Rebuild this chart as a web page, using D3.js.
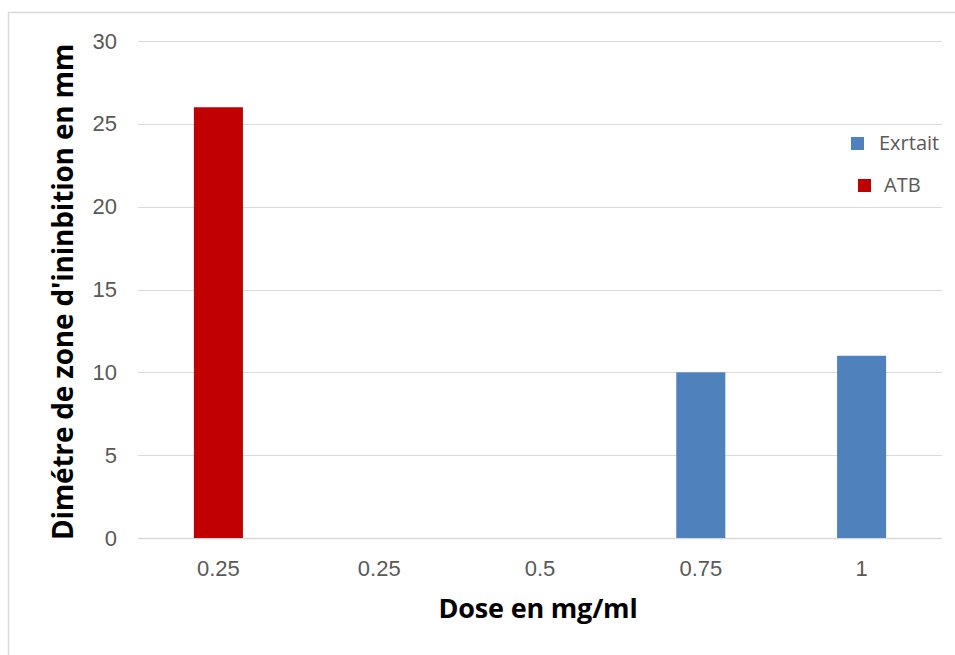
<!DOCTYPE html>
<html>
<head>
<meta charset="utf-8">
<script src="https://cdn.jsdelivr.net/npm/d3@7"></script>
<style>
  html, body { margin: 0; padding: 0; background: #fff; }
  svg { display: block; }
</style>
</head>
<body>
<svg id="chart" width="955" height="655"></svg>
<script>
// Inhibition zone diameters per dose
const categories = ["0.25", "0.25 ", "0.5", "0.75", "1"];
const extrait = [0, 0, 0, 10, 11];
const atb = [26, 0, 0, 0, 0];
const yTicks = [0, 5, 10, 15, 20, 25, 30];
const seriesNames = ["Exrtait", "ATB"];
const seriesColors = ["#4F81BD", "#C00000"];

const svg = d3.select("#chart");
const W = 955, H = 655;
const plot = { left: 138, right: 942, top: 41, bottom: 538 };

// Outer chart frame
svg.append("rect")
  .attr("x", 8.5).attr("y", 12.5)
  .attr("width", W + 10).attr("height", H + 10)
  .attr("fill", "#fff").attr("stroke", "#d9d9d9").attr("stroke-width", 1.5);

const x = d3.scaleBand().domain(categories)
  .range([plot.left, plot.right]).paddingInner(0).paddingOuter(0);
const y = d3.scaleLinear().domain([0, 30]).range([plot.bottom, plot.top]);

// Horizontal gridlines
svg.append("g")
  .selectAll("line").data(yTicks).join("line")
  .attr("x1", plot.left).attr("x2", plot.right)
  .attr("y1", d => Math.round(y(d)) + 0.5).attr("y2", d => Math.round(y(d)) + 0.5)
  .attr("stroke", "#d9d9d9").attr("stroke-width", d => d === 0 ? 1.5 : 1);

// Y axis tick labels
const yAxis = d3.axisLeft(y).tickValues(yTicks).tickSize(0).tickPadding(0);
svg.append("g")
  .attr("transform", `translate(${plot.left - 21},0)`)
  .call(yAxis)
  .call(g => g.select(".domain").remove())
  .selectAll("text")
  .attr("font-family", "'Liberation Sans', Arial, sans-serif")
  .attr("font-size", 22).attr("fill", "#595959");

// X axis tick labels
const xAxis = d3.axisBottom(x).tickSize(0).tickPadding(0);
svg.append("g")
  .attr("transform", `translate(0,${plot.bottom + 22})`)
  .call(xAxis)
  .call(g => g.select(".domain").remove())
  .selectAll("text")
  .attr("font-family", "'Liberation Sans', Arial, sans-serif")
  .attr("font-size", 22).attr("fill", "#595959")
  .attr("dy", "0.71em");

// Bars: series share the category slot (only one series per dose is non-zero)
const barW = x.bandwidth() * 0.305;
const rows = categories.map((c, i) => ({ c, vals: [extrait[i], atb[i]] }));
seriesNames.forEach((name, s) => {
  svg.append("g")
    .selectAll("rect")
    .data(rows.filter(r => r.vals[s] > 0))
    .join("rect")
    .attr("x", r => x(r.c) + (x.bandwidth() - barW) / 2)
    .attr("width", barW)
    .attr("y", r => y(r.vals[s]))
    .attr("height", r => y(0) - y(r.vals[s]))
    .attr("fill", seriesColors[s]);
});

// Axis titles
svg.append("text")
  .attr("x", 538).attr("y", 618)
  .attr("text-anchor", "middle")
  .attr("font-family", "'Open Sans', sans-serif")
  .attr("font-weight", "bold").attr("font-size", 27).attr("fill", "#000")
  .attr("letter-spacing", "-0.2px")
  .text("Dose en mg/ml");

svg.append("text")
  .attr("transform", "translate(73,292) rotate(-90)")
  .attr("text-anchor", "middle")
  .attr("font-family", "'Open Sans', sans-serif")
  .attr("font-weight", "bold").attr("font-size", 28).attr("fill", "#000")
  .attr("letter-spacing", "-0.2px")
  .text("Dimétre de zone d'ininbition  en mm");

// Legend
const legend = [
  { name: seriesNames[0], color: seriesColors[0], sx: 851, sy: 137, tx: 879, ty: 150 },
  { name: seriesNames[1], color: seriesColors[1], sx: 858, sy: 179, tx: 884, ty: 192 }
];
const lg = svg.append("g");
lg.selectAll("rect").data(legend).join("rect")
  .attr("x", d => d.sx).attr("y", d => d.sy)
  .attr("width", 13).attr("height", 13)
  .attr("fill", d => d.color);
lg.selectAll("text").data(legend).join("text")
  .attr("x", d => d.tx).attr("y", d => d.ty)
  .attr("font-family", "'Open Sans', sans-serif")
  .attr("font-size", 20).attr("fill", "#595959")
  .text(d => d.name);
</script>
</body>
</html>
